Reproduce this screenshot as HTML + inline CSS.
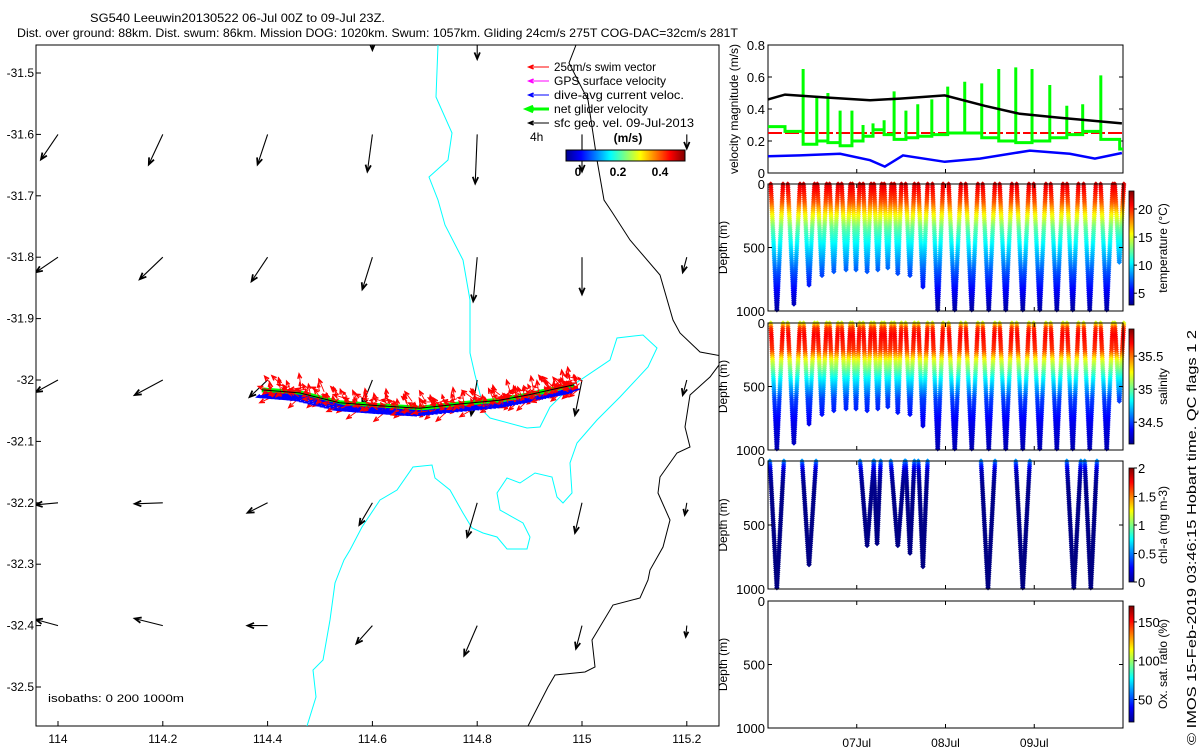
<!DOCTYPE html>
<html><head><meta charset="utf-8">
<style>
html,body{margin:0;padding:0;background:#fff;}
svg{display:block;font-family:"Liberation Sans",Arial,sans-serif;}
text{fill:#000;}
</style></head>
<body>
<svg id="root" width="1200" height="750" viewBox="0 0 1200 750" xmlns="http://www.w3.org/2000/svg">
<defs>
<clipPath id="mapclip"><rect x="36" y="45" width="683" height="681"/></clipPath>
<linearGradient id="jetH" x1="0" x2="1" y1="0" y2="0">
<stop offset="0" stop-color="#00008f"/><stop offset="0.125" stop-color="#0000ff"/><stop offset="0.375" stop-color="#00ffff"/><stop offset="0.625" stop-color="#ffff00"/><stop offset="0.875" stop-color="#ff0000"/><stop offset="1" stop-color="#800000"/>
</linearGradient>
<linearGradient id="jetV" x1="0" x2="0" y1="1" y2="0">
<stop offset="0" stop-color="#00008f"/><stop offset="0.125" stop-color="#0000ff"/><stop offset="0.375" stop-color="#00ffff"/><stop offset="0.625" stop-color="#ffff00"/><stop offset="0.875" stop-color="#ff0000"/><stop offset="1" stop-color="#800000"/>
</linearGradient>
</defs>

<text x="90" y="22" font-size="12" textLength="295" lengthAdjust="spacingAndGlyphs">SG540 Leeuwin20130522 06-Jul 00Z to 09-Jul 23Z.</text>
<text x="17" y="37" font-size="12" textLength="721" lengthAdjust="spacingAndGlyphs">Dist. over ground: 88km. Dist. swum: 86km. Mission DOG: 1020km. Swum: 1057km. Gliding 24cm/s 275T COG-DAC=32cm/s 281T</text>

<g id="map"></g>
<g id="vel"></g>
<g id="temp"></g>
<g id="sal"></g>
<g id="chl"></g>
<g id="oxy"></g>

<text transform="translate(1196,745) rotate(-90)" font-size="13" textLength="415" lengthAdjust="spacingAndGlyphs">© IMOS 15-Feb-2019 03:46:15 Hobart time. QC flags 1  2</text>
</svg>
<script>
// ---------------- DATA ----------------
const mapLonTicks = [114, 114.2, 114.4, 114.6, 114.8, 115, 115.2];
const mapLatTicks = [-31.5, -31.6, -31.7, -31.8, -31.9, -32, -32.1, -32.2, -32.3, -32.4, -32.5];
const geoLon = [114.6,114.8, 114,114.2,114.4,114.6,114.8,115,115.2, 114,114.2,114.4,114.6,114.8,115,115.2, 114,114.2,114.4,114.6,114.8,115,115.2, 114,114.2,114.4,114.6,114.8,115,115.2, 114,114.2,114.4,114.6,114.8,115,115.2];
const geoLat = [-31.42,-31.42, -31.6,-31.6,-31.6,-31.6,-31.6,-31.6,-31.6, -31.8,-31.8,-31.8,-31.8,-31.8,-31.8,-31.8, -32,-32,-32,-32,-32,-32,-32, -32.2,-32.2,-32.2,-32.2,-32.2,-32.2,-32.2, -32.4,-32.4,-32.4,-32.4,-32.4,-32.4,-32.4];
const geoU = [0,0, -17,-14,-10,-5,-2,0,0, -22,-23,-16,-10,-4,0,-4, -22,-28,-18,-10,-6,-7,-4, -22,-28,-20,-13,-10,-7,-2, -22,-28,-20,-16,-13,-6,-1];
const geoV = [-26,-35, -25,-30,-30,-37,-49,-37,-14, -15,-22,-24,-32,-44,-37,-15, -12,-15,-17,-25,-35,-35,-15, -2,-1,-10,-22,-34,-30,-12, 6,7,0,-18,-30,-23,-11];
const trackLon = [114.389,114.461,114.537,114.613,114.690,114.766,114.842,114.899,114.956,114.985];
const trackLat = [-32.016,-32.021,-32.037,-32.042,-32.046,-32.039,-32.033,-32.024,-32.013,-32.008];

const velBlackT = [0,4.6,16.8,27.6,35.7,47.8,58.6,68.1,78.9,95.7];
const velBlackV = [0.46,0.49,0.47,0.455,0.465,0.485,0.42,0.37,0.345,0.31];
const velBlueT = [0,8.6,19.5,27.6,31.6,36.5,47.8,57.3,70.8,81.6,88.4,95.7];
const velBlueV = [0.105,0.11,0.12,0.08,0.04,0.11,0.07,0.09,0.14,0.12,0.09,0.125];
const swimTarget = 0.25;
const greenT = [0,4.6,9.5,13.2,16.2,19.5,22.7,25.7,28.4,31.4,34.1,37.3,40.5,44.3,48.6,53.2,57.8,62.4,67.0,71.4,76.2,80.8,85.1,90.0,95.1];
const greenLow = [0.29,0.26,0.18,0.20,0.19,0.17,0.20,0.23,0.27,0.24,0.21,0.22,0.23,0.24,0.25,0.25,0.22,0.20,0.19,0.20,0.22,0.24,0.26,0.21,0.15];
const greenSpike = [0,0,0.65,0.47,0.50,0.39,0.39,0.30,0.31,0.33,0.51,0.39,0.43,0.46,0.54,0.57,0.56,0.65,0.66,0.65,0.55,0.42,0.43,0.61,0];
const velTicks = [0,0.2,0.4,0.6,0.8];

const diveT = [2.4,7.0,11.1,14.6,17.8,21.1,23.8,26.8,29.7,32.4,35.1,38.4,41.9,45.9,50.5,55.1,59.7,64.3,68.9,73.5,78.1,82.4,87.0,91.6,95.0];
const diveDepth = [1000,950,800,730,700,680,680,700,680,660,710,730,820,1000,1000,1000,1000,1000,1000,1000,1000,1000,1000,1000,620];
const chlT = [2.4,11.1,26.8,29.5,35.1,38.4,41.9,59.5,68.9,82.7,87.3];
const chlDepth = [1000,820,660,650,670,720,830,1000,1000,1000,1000];
const depthTicks = [0,500,1000];
const dayTicks = [24,48,72];
const dayLabels = ["07Jul","08Jul","09Jul"];

// -------------- helpers --------------
const NS="http://www.w3.org/2000/svg";
function mk(tag, attrs, parent){const e=document.createElementNS(NS,tag);for(const k in attrs)e.setAttribute(k,attrs[k]);parent.appendChild(e);return e;}
function jet(v){v=Math.max(0,Math.min(1,v));
 const r=Math.max(0,Math.min(1,1.5-Math.abs(4*v-3))),g=Math.max(0,Math.min(1,1.5-Math.abs(4*v-2))),b=Math.max(0,Math.min(1,1.5-Math.abs(4*v-1)));
 return `rgb(${Math.round(r*255)},${Math.round(g*255)},${Math.round(b*255)})`;}
function interp(xs,ys,x){if(x<=xs[0])return ys[0];for(let i=1;i<xs.length;i++){if(x<=xs[i]){const f=(x-xs[i-1])/(xs[i]-xs[i-1]);return ys[i-1]+f*(ys[i]-ys[i-1]);}}return ys[ys.length-1];}

// -------------- MAP --------------
const map=document.getElementById('map');
const lonX=lon=>58+(lon-114)*524;
const latY=lat=>380-(lat+32)*614;
const mapFrame=mk('rect',{x:36,y:45,width:683,height:681,fill:'none',stroke:'#000','stroke-width':1},map);


mapLonTicks.forEach(l=>{const x=lonX(l);
 mk('line',{x1:x,x2:x,y1:726,y2:721,stroke:'#000'},map);
 const t=mk('text',{x:x,y:743,'font-size':12,'text-anchor':'middle'},map);t.textContent=String(l);
 
 });
mapLatTicks.forEach(l=>{const y=latY(l);
 mk('line',{x1:36,x2:41,y1:y,y2:y,stroke:'#000'},map);
 const t=mk('text',{x:34,y:y+4,'font-size':12,'text-anchor':'end'},map);t.textContent=String(l);
 
 });
const mc=mk('g',{'clip-path':'url(#mapclip)'},map);
const iso200a=mk('polyline',{points:"438,45 436,97 452,133 448,160 429,177 438,200 445,225 463,260 470,300 470,353 475,375 485,413 490,418 527,428 540,427 550,407 570,387 610,360 617,338 643,335 657,348 648,367 620,397 597,420 577,443 570,463 572,493 563,503 557,497 552,477 535,473 520,483 507,478 497,493 500,510 523,523 530,537 527,549 507,549 497,537 483,533 472,528 463,513 450,490 435,478 432,465 413,467 397,490 380,500 362,527 350,550 344,560 335,583 330,620 323,660 313,670 316,697 307,726",fill:'none',stroke:'#00ffff','stroke-width':1},mc);


const iso1000=mk('polyline',{points:"576,45 569,63 588,100 597,160 604,200 612,212 630,240 660,275 673,320 680,333 700,352 722,356",fill:'none',stroke:'#000','stroke-width':1},mc);


const iso1000b=mk('polyline',{points:"722,361 710,377 690,395 685,427 690,447 677,453 660,477 658,493 670,520 663,547 650,570 648,580 640,598 613,605 592,640 595,667 585,672 555,675 548,687 528,726",fill:'none',stroke:'#000','stroke-width':1},mc);


function arrow(g,x1,y1,x2,y2,col,w,hs){
 mk('line',{x1,y1,x2,y2,stroke:col,'stroke-width':w},g);
 const a=Math.atan2(y2-y1,x2-x1),L=Math.hypot(x2-x1,y2-y1),h=Math.min(hs,L*0.5);
 const p1=[x2-h*Math.cos(a-0.4),y2-h*Math.sin(a-0.4)],p2=[x2-h*Math.cos(a+0.4),y2-h*Math.sin(a+0.4)];
 mk('polyline',{points:`${p1} ${x2},${y2} ${p2}`,fill:'none',stroke:col,'stroke-width':w*1.6},g);}
geoLon.forEach((lon,i)=>{const g=mk('g',{},mc);
 
 
 const x=lonX(lon),y=latY(geoLat[i]);arrow(g,x,y,x+geoU[i],y-geoV[i],'#000',1.1,7);});
const tr=mk('g',{},mc);


const tpts=trackLon.map((l,i)=>[lonX(l),latY(trackLat[i])]);
mk('polyline',{points:tpts.map(p=>p.join(',')).join(' '),fill:'none',stroke:'#00ff00','stroke-width':5},tr);
mk('polyline',{points:tpts.map(p=>(p[0]+3)+','+(p[1]+4)).join(' '),fill:'none',stroke:'#0000ff','stroke-width':4},tr);
for(let k=0;k<260;k++){const f=k/259*(tpts.length-1),i=Math.min(tpts.length-2,Math.floor(f)),r=f-i;
 const x=tpts[i][0]+r*(tpts[i+1][0]-tpts[i][0]),y=tpts[i][1]+r*(tpts[i+1][1]-tpts[i][1]);
 const ang=-2.8+1.1*Math.sin(k*1.7),len=10+5*Math.sin(k*2.3);
 const ox=x+6+3*Math.sin(k*0.9),oy=y+6*Math.sin(k*1.3);
 arrow(tr,ox,oy,ox+len*Math.cos(ang),oy+len*Math.sin(ang),'#ff0000',0.9,5);
 if(k%3==0)arrow(tr,x+6,y+4,x-4,y+7,'#0000ff',1.4,3);}
mk('polyline',{points:tpts.map(p=>p.join(',')).join(' '),fill:'none',stroke:'#000','stroke-width':1},tr);
const leg=[['25cm/s swim vector','#ff0000',1],['GPS surface velocity','#ff00ff',1],['dive-avg current veloc.','#0000ff',1],['net glider velocity','#00ff00',3],['sfc geo. vel. 09-Jul-2013','#000',1]];
const legLen=[102,112,130,94,140];
leg.forEach((e,i)=>{const g=mk('g',{},map);
 
 
 const y=67+i*14;arrow(g,549,y,529,y,e[1],e[2],5);
 const t=mk('text',{x:554,y:y+4,'font-size':12,textLength:legLen[i],lengthAdjust:'spacingAndGlyphs'},g);t.textContent=e[0];});
const t4=mk('text',{x:530,y:141,'font-size':12},map);t4.textContent='4h';


const tms=mk('text',{x:628,y:142,'font-size':12,'font-weight':'bold','text-anchor':'middle'},map);tms.textContent='(m/s)';


const mcb=mk('rect',{x:566,y:150,width:119,height:11,fill:'url(#jetH)',stroke:'#000'},map);


[[578,'0'],[618,'0.2'],[660,'0.4']].forEach(a=>{const t=mk('text',{x:a[0],y:176,'font-size':12,'font-weight':'bold','text-anchor':'middle'},map);t.textContent=a[1];});
const isoT=mk('text',{x:48,y:702,'font-size':11,textLength:136,lengthAdjust:'spacingAndGlyphs'},map);isoT.textContent='isobaths: 0   200  1000m';



// -------------- RIGHT PANELS --------------
const PX0=768,PX1=1123;
const tX=h=>PX0+h/96*(PX1-PX0);
function frame(g,top,bot,name){const r=mk('rect',{x:PX0,y:top,width:PX1-PX0,height:bot-top,fill:'none',stroke:'#000'},g);
 
 }
function depthAxis(g,top,bot){
 depthTicks.forEach(d=>{const y=top+d/1000*(bot-top);
  mk('line',{x1:PX0,x2:PX0+4,y1:y,y2:y,stroke:'#000'},g);mk('line',{x1:PX1,x2:PX1-4,y1:y,y2:y,stroke:'#000'},g);
  const t=mk('text',{x:PX0-3,y:y+5,'font-size':13,'text-anchor':'end'},g);t.textContent=String(d);});
 dayTicks.forEach(h=>{const x=tX(h);mk('line',{x1:x,x2:x,y1:bot,y2:bot-4,stroke:'#000'},g);mk('line',{x1:x,x2:x,y1:top,y2:top+4,stroke:'#000'},g);});
 const yl=mk('text',{transform:`translate(727,${(top+bot)/2}) rotate(-90)`,'font-size':12,'text-anchor':'middle'},g);yl.textContent='Depth (m)';
 
 }
function colorbar(g,top,bot,ticks,vmin,vmax,label,name){
 const r=mk('rect',{x:1129,y:top,width:5,height:bot-top,fill:'url(#jetV)',stroke:'#000','stroke-width':0.8},g);
 
 
 ticks.forEach(v=>{const y=bot-(v-vmin)/(vmax-vmin)*(bot-top);mk('line',{x1:1134,x2:1137,y1:y,y2:y,stroke:'#000'},g);
  const t=mk('text',{x:1138,y:y+5,'font-size':13},g);t.textContent=String(v);});
 const l=mk('text',{transform:`translate(1167,${(top+bot)/2}) rotate(-90)`,'font-size':12,'text-anchor':'middle'},g);l.textContent=label;}
function scatter(g,top,bot,T,D,colorFn){
 for(let i=0;i<T.length;i++){
  const gap=i>0?T[i]-T[i-1]:(T[i+1]-T[i]);
  const hw=Math.min(0.36*gap,1.9);
  for(const s of [-1,1]){
   for(let d=0;d<=D[i];d+=15){const f=1-d/D[i];
    const x=tX(T[i]+s*hw*f),y=top+d/1000*(bot-top);
    mk('path',{d:`M${x-2.6},${y}L${x},${y-2.6}L${x+2.6},${y}L${x},${y+2.6}Z`,fill:colorFn(d)},g);}}}}

const vel=document.getElementById('vel');
const vTop=45,vBot=173,vY=v=>vBot-v/0.8*(vBot-vTop);
frame(vel,vTop,vBot,'velocity-axes-frame');
velTicks.forEach(v=>{const y=vY(v);mk('line',{x1:PX0,x2:PX0+4,y1:y,y2:y,stroke:'#000'},vel);mk('line',{x1:PX1,x2:PX1-4,y1:y,y2:y,stroke:'#000'},vel);
 const t=mk('text',{x:PX0-3,y:y+5,'font-size':13,'text-anchor':'end'},vel);t.textContent=String(v);});
dayTicks.forEach(h=>{const x=tX(h);mk('line',{x1:x,x2:x,y1:vBot,y2:vBot-4,stroke:'#000'},vel);});
const vyl=mk('text',{transform:`translate(738,${(vTop+vBot)/2}) rotate(-90)`,'font-size':12,'text-anchor':'middle'},vel);vyl.textContent='velocity magnitude (m/s)';


const red=mk('line',{x1:PX0,x2:PX1,y1:vY(swimTarget),y2:vY(swimTarget),stroke:'#ff0000','stroke-width':2,'stroke-dasharray':'14 3'},vel);


let gp=[];greenT.forEach((t,i)=>{const x=tX(t);
 if(greenSpike[i]>0){gp.push([x,vY(greenLow[i-1])]);gp.push([x,vY(greenSpike[i])]);gp.push([x,vY(greenLow[i])]);}
 else gp.push([x,vY(greenLow[i])]);
 const xe=i<greenT.length-1?tX(greenT[i+1]):PX1;gp.push([xe,vY(greenLow[i])]);});
const gl=mk('polyline',{points:gp.map(p=>p.join(',')).join(' '),fill:'none',stroke:'#00ff00','stroke-width':3},vel);


const bl=mk('polyline',{points:velBlackT.map((t,i)=>tX(t)+','+vY(velBlackV[i])).join(' '),fill:'none',stroke:'#000','stroke-width':2.5},vel);


const bu=mk('polyline',{points:velBlueT.map((t,i)=>tX(t)+','+vY(velBlueV[i])).join(' '),fill:'none',stroke:'#0000ff','stroke-width':2.5},vel);



const tempG=document.getElementById('temp');
const tempC=d=>{const T=interp([0,150,250,350,500,700,1000],[21.5,19,15.5,12.5,10,7,3.5],d);return jet((T-2.9)/(23.2-2.9));};
scatter(tempG,184,311,diveT,diveDepth,tempC);
frame(tempG,184,311,'temperature-axes-frame');depthAxis(tempG,184,311);
colorbar(tempG,191,305,[5,10,15,20],2.9,23.2,'temperature (°C)','temperature-colorbar');
const salG=document.getElementById('sal');
const salC=d=>{const S=interp([0,40,100,220,300,450,600,800,1000],[35.2,35.6,35.7,35.6,35.2,34.8,34.5,34.35,34.25],d);return jet((S-34.17)/(35.91-34.17));};
scatter(salG,323,450,diveT,diveDepth,salC);
frame(salG,323,450,'salinity-axes-frame');depthAxis(salG,323,450);
colorbar(salG,329,444,[34.5,35,35.5],34.17,35.91,'salinity','salinity-colorbar');
const chlG=document.getElementById('chl');
const chlC=d=>{const c=interp([0,30,80,200,1000],[0.55,0.35,0.12,0.02,0],d);return jet(c/2);};
scatter(chlG,461,589,chlT,chlDepth,chlC);
frame(chlG,461,589,'chlorophyll-axes-frame');depthAxis(chlG,461,589);
colorbar(chlG,468,582,[0,0.5,1,1.5,2],0,2,'chl-a (mg m-3)','chlorophyll-colorbar');
const oxG=document.getElementById('oxy');
frame(oxG,601,728,'oxygen-axes-frame');depthAxis(oxG,601,728);
colorbar(oxG,606,722,[50,100,150],21,170.5,'Ox. sat. ratio (%)','oxygen-colorbar');
dayTicks.forEach((h,i)=>{const t=mk('text',{x:tX(h),y:747,'font-size':12,'text-anchor':'middle'},oxG);t.textContent=dayLabels[i];
 
 });
</script>
</body></html>
